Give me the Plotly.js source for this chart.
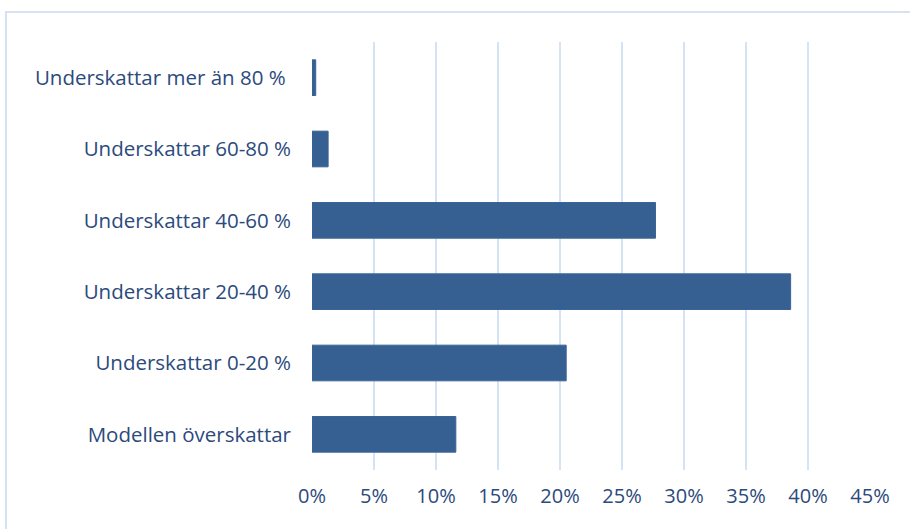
<!DOCTYPE html>
<html><head><meta charset="utf-8">
<script src="https://cdn.plot.ly/plotly-3.0.1.min.js"></script>
<style>html,body{margin:0;padding:0;background:#fff;}#chart{width:910px;height:529px;}</style>
</head><body><div id="chart"></div>
<script>
var categories = ["Modellen överskattar","Underskattar 0-20 %","Underskattar 20-40 %","Underskattar 40-60 %","Underskattar 60-80 %","Underskattar mer än 80 %\u00a0"];
var values = [0.116, 0.205, 0.386, 0.277, 0.013, 0.003];
var tickVals = [0,0.05,0.10,0.15,0.20,0.25,0.30,0.35,0.40,0.45];
var tickText = ["0%","5%","10%","15%","20%","25%","30%","35%","40%","45%"];

var textColor = "#2c4a7c";
var gridColor = "#d6e3f4";
Plotly.newPlot("chart", [{
  type: "bar", orientation: "h",
  y: categories, x: values,
  marker: {color: "#376092", line: {color: "#3a6497", width: 1}},
  width: 0.5, hoverinfo: "none"
}], {
  width: 910, height: 529,
  margin: {l: 312, r: 40, t: 42, b: 59},
  paper_bgcolor: "#fff", plot_bgcolor: "#fff",
  font: {family: "'Open Sans', Lato, sans-serif", color: textColor, size: 20},
  showlegend: false,
  xaxis: {range: [0, 0.45], tickvals: tickVals, ticktext: tickText, showgrid: true,
    gridcolor: gridColor, gridwidth: 2, zeroline: false, showline: false,
    tickfont: {size: 20, color: textColor}, ticklabelstandoff: 12, fixedrange: true},
  yaxis: {type: "category", categoryorder: "array", categoryarray: categories,
    showgrid: false, zeroline: false, showline: false,
    tickfont: {size: 20.5, color: textColor}, ticklabelstandoff: 20, fixedrange: true},
  shapes: [{type: "rect", xref: "paper", yref: "paper",
    x0: -0.5484, x1: 1.2, y0: -0.3, y1: 1.0701,
    line: {color: "#d5e2f2", width: 2}, fillcolor: "rgba(0,0,0,0)", layer: "below"}]
}, {displayModeBar: false, staticPlot: true});
</script></body></html>
